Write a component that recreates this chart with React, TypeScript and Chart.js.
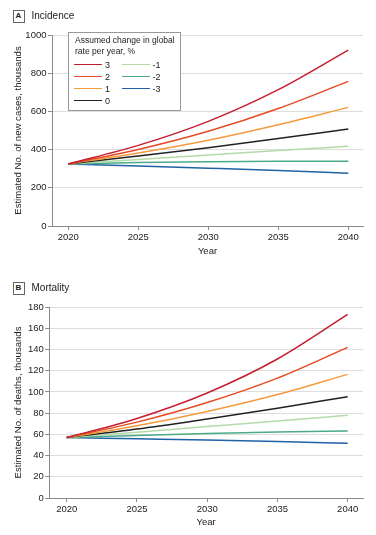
import React, { useEffect, useRef } from "react";
import { Chart, registerables } from "chart.js";

Chart.register(...registerables);

const FONT = "'Liberation Sans', Arial, sans-serif";

// ---- data ----
const years = [2020, 2025, 2030, 2035, 2040];
const xTickYears = [2020, 2025, 2030, 2035, 2040];
const scenarioLabels = ["3", "2", "1", "0", "-1", "-2", "-3"];
const scenarioColors = ["#c41f30", "#e64a24", "#f59a3e", "#222222", "#b3dba8", "#4aab85", "#1f62a6"];

const incidence3 = [325, 422, 548, 714, 921];
const incidence2 = [325, 401, 496, 615, 757];
const incidence1 = [325, 382, 449, 530, 621];
const incidence0 = [325, 366, 410, 458, 508];
const incidenceM1 = [325, 348, 372, 395, 417];
const incidenceM2 = [325, 332, 337, 339, 339];
const incidenceM3 = [325, 314, 303, 291, 276];
const incidenceTicks = [0, 200, 400, 600, 800, 1000];

const mortality3 = [57, 75, 99, 131, 173];
const mortality2 = [57, 71.5, 90, 113, 142];
const mortality1 = [57, 68, 81.5, 97.5, 116.5];
const mortality0 = [57, 65, 74.5, 84.5, 95.5];
const mortalityM1 = [57, 62, 67.3, 72.6, 78];
const mortalityM2 = [57, 59, 60.8, 62.2, 63.2];
const mortalityM3 = [57, 55.8, 54.6, 53.2, 51.5];
const mortalityTicks = [0, 20, 40, 60, 80, 100, 120, 140, 160, 180];

const incidenceSeries = [incidence3, incidence2, incidence1, incidence0, incidenceM1, incidenceM2, incidenceM3];
const mortalitySeries = [mortality3, mortality2, mortality1, mortality0, mortalityM1, mortalityM2, mortalityM3];

const AXIS = "#8a8a8a";
const GRID = "#dedede";
const TEXT = "#222";

type PanelProps = {
  top: number;
  height: number;
  letter: string;
  title: string;
  yTitle: string;
  series: number[][];
  yTicks: number[];
  axisWidth: number;
  xMin: number;
  xMax: number;
  xAxisHeight: number;
  yearPad: number;
  children?: React.ReactNode;
};

function Panel(p: PanelProps) {
  const ref = useRef<HTMLCanvasElement | null>(null);
  useEffect(() => {
    if (!ref.current) return;
    const datasets = p.series.map((vals, i) => ({
      label: scenarioLabels[i],
      data: vals.map((v, j) => ({ x: years[j], y: v })),
      borderColor: scenarioColors[i],
      backgroundColor: scenarioColors[i],
      borderWidth: 1.5,
      pointRadius: 0,
      cubicInterpolationMode: "monotone" as const,
      fill: false,
    }));
    const chart = new Chart(ref.current, {
      type: "line",
      data: { datasets },
      options: {
        animation: false,
        responsive: true,
        maintainAspectRatio: false,
        layout: { padding: { top: 35, right: 13, left: 0, bottom: 0 } },
        plugins: { legend: { display: false }, tooltip: { enabled: false } },
        scales: {
          x: {
            type: "linear",
            min: p.xMin,
            max: p.xMax,
            afterFit: (axis: any) => {
              axis.height = p.xAxisHeight;
            },
            afterBuildTicks: (axis: any) => {
              axis.ticks = xTickYears.map((v) => ({ value: v }));
            },
            ticks: {
              includeBounds: false,
              callback: (v: any) => String(v),
              color: TEXT,
              font: { family: FONT, size: 9.5 },
              padding: 1.5,
              maxRotation: 0,
            },
            grid: { drawOnChartArea: false, drawTicks: true, tickLength: 4, tickColor: AXIS, color: AXIS },
            border: { display: true, color: AXIS, width: 1 },
            title: {
              display: true,
              text: "Year",
              color: TEXT,
              font: { family: FONT, size: 9.5 },
              padding: { top: 0, bottom: p.yearPad },
            },
          },
          y: {
            min: p.yTicks[0],
            max: p.yTicks[p.yTicks.length - 1],
            afterFit: (axis: any) => {
              axis.width = p.axisWidth;
            },
            ticks: {
              stepSize: p.yTicks[1] - p.yTicks[0],
              callback: (v: any) => String(v),
              color: TEXT,
              font: { family: FONT, size: 9.5 },
              padding: 1.5,
            },
            grid: { color: GRID, lineWidth: 1, tickLength: 4, tickColor: AXIS, drawTicks: true },
            border: { display: true, color: AXIS, width: 1 },
            title: {
              display: true,
              text: p.yTitle,
              color: TEXT,
              font: { family: FONT, size: 9.6 },
              padding: { top: 12.5, bottom: 0 },
            },
          },
        },
      },
    });
    return () => chart.destroy();
  }, []);

  return (
    <div style={{ position: "absolute", left: 0, top: p.top, width: 376, height: p.height }}>
      <div style={{ position: "absolute", left: 0, top: 0, width: 376, height: p.height }}>
        <canvas ref={ref} />
      </div>
      <div
        style={{
          position: "absolute",
          left: 12.5,
          top: 10,
          width: 10,
          height: 10.5,
          border: "1px solid #666",
          fontFamily: FONT,
          fontSize: 8,
          fontWeight: "bold",
          lineHeight: "10.5px",
          textAlign: "center",
          color: TEXT,
          background: "#fff",
        }}
      >
        {p.letter}
      </div>
      <div
        style={{
          position: "absolute",
          left: 31.5,
          top: 9,
          fontFamily: FONT,
          fontSize: 10,
          lineHeight: "13px",
          color: TEXT,
          whiteSpace: "nowrap",
        }}
      >
        {p.title}
      </div>
      {p.children}
    </div>
  );
}

function Legend() {
  const rowsY = [64.5, 76.5, 88.5, 100.5];
  const col1 = [0, 1, 2, 3];
  const col2 = [4, 5, 6];
  const item = (idx: number, row: number, x: number) => (
    <React.Fragment key={idx}>
      <div
        style={{
          position: "absolute",
          left: x,
          top: rowsY[row] - 0.75,
          width: 28,
          height: 1.5,
          background: scenarioColors[idx],
        }}
      />
      <div
        style={{
          position: "absolute",
          left: x + 31,
          top: rowsY[row] - 6,
          fontFamily: FONT,
          fontSize: 9,
          lineHeight: "12px",
          color: TEXT,
          whiteSpace: "nowrap",
        }}
      >
        {scenarioLabels[idx]}
      </div>
    </React.Fragment>
  );
  return (
    <>
      <div
        style={{
          position: "absolute",
          left: 68,
          top: 31.5,
          width: 111,
          height: 77.5,
          border: "1px solid #999",
          background: "#fff",
        }}
      />
      <div
        style={{
          position: "absolute",
          left: 75,
          top: 35,
          fontFamily: FONT,
          fontSize: 8.5,
          lineHeight: "11px",
          color: TEXT,
          whiteSpace: "nowrap",
        }}
      >
        Assumed change in global
        <br />
        rate per year, %
      </div>
      {col1.map((idx, r) => item(idx, r, 74))}
      {col2.map((idx, r) => item(idx, r, 121.5))}
    </>
  );
}

export default function App() {
  return (
    <div style={{ position: "absolute", left: 0, top: 0, width: 376, height: 535, background: "#fff" }}>
      <Panel
        top={0}
        height={262}
        letter="A"
        title="Incidence"
        yTitle="Estimated No. of new cases, thousands"
        series={incidenceSeries}
        yTicks={incidenceTicks}
        axisWidth={52}
        xMin={2018.84}
        xMax={2041.05}
        xAxisHeight={36}
        yearPad={5}
      >
        <Legend />
      </Panel>
      <Panel
        top={272}
        height={263}
        letter="B"
        title="Mortality"
        yTitle="Estimated No. of deaths, thousands"
        series={mortalitySeries}
        yTicks={mortalityTicks}
        axisWidth={49.3}
        xMin={2018.76}
        xMax={2041.09}
        xAxisHeight={37}
        yearPad={6.5}
      />
    </div>
  );
}
